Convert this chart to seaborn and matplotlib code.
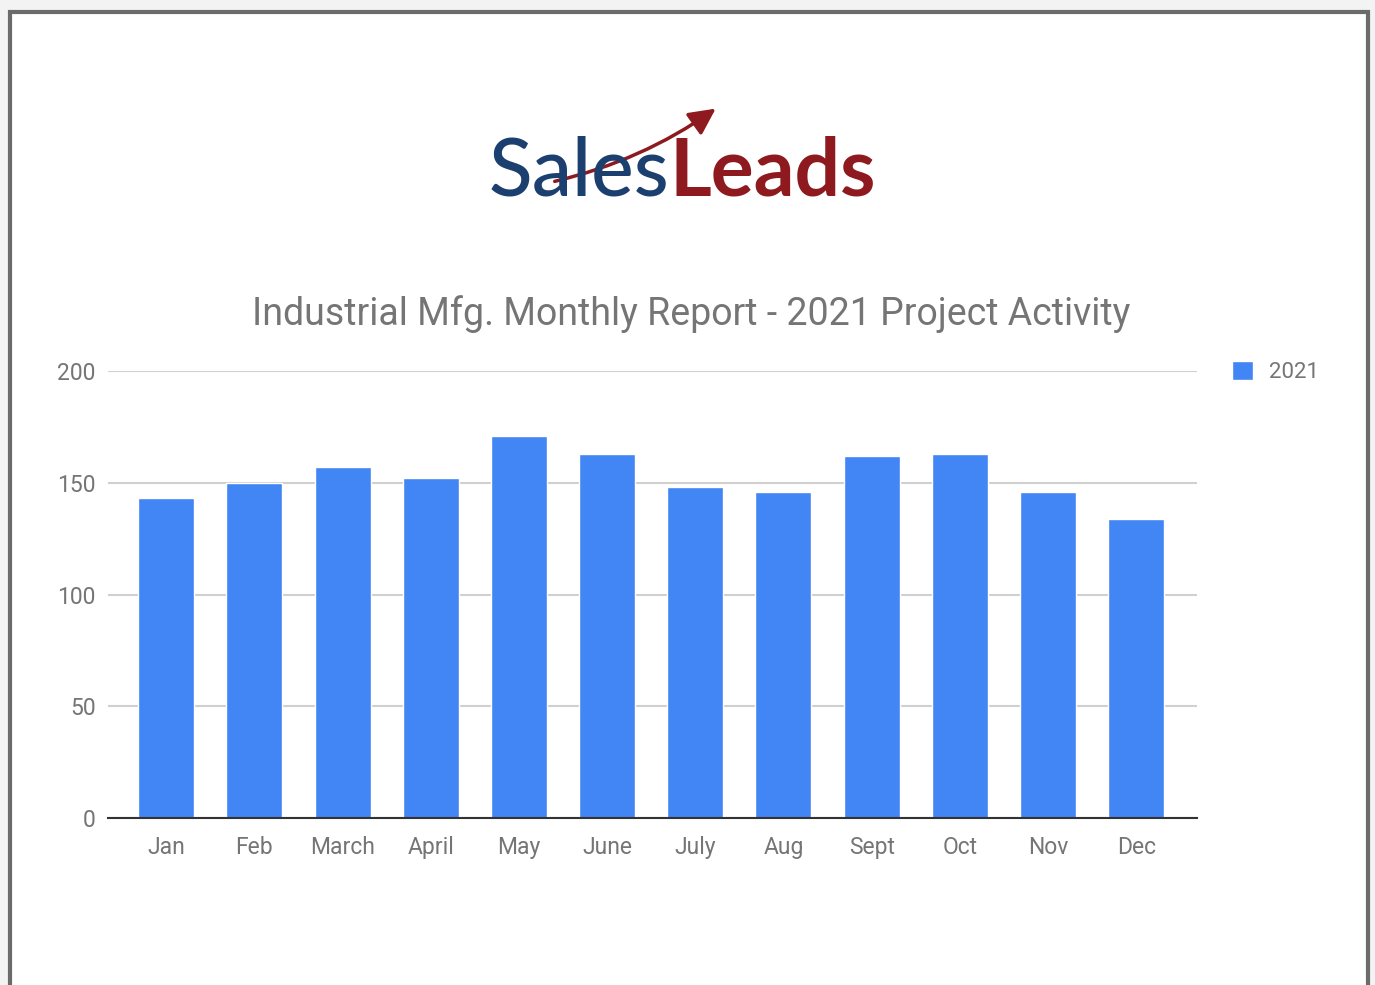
import numpy as np
import pandas as pd
import seaborn as sns
import matplotlib.pyplot as plt
from matplotlib.patches import Rectangle, FancyArrowPatch

months = ['Jan', 'Feb', 'March', 'April', 'May', 'June', 'July', 'Aug', 'Sept', 'Oct', 'Nov', 'Dec']
projects = [143, 150, 157, 152, 171, 163, 148, 146, 162, 163, 146, 134]
year = ['2021'] * len(months)
yticks = [0, 50, 100, 150, 200]

df = pd.DataFrame({'month': months, 'projects': projects, 'year': year})

sns.set_style('white')
plt.rcParams['font.family'] = ['Roboto', 'DejaVu Sans']

W, H = 1375, 985
fig = plt.figure(figsize=(W / 100, H / 100), dpi=100, facecolor='#f3f3f3')

def fx(px):
    return px / W

def fy(py):
    return 1 - py / H

# page frame
fig.patches.append(Rectangle((fx(10), fy(990)), fx(1368) - fx(10), fy(12) - fy(990),
                             transform=fig.transFigure, facecolor='white',
                             edgecolor='#6b6b6b', lw=3, zorder=-10))

ax = fig.add_axes([fx(108), fy(818), fx(1197) - fx(108), fy(371) - fy(818)])
ax.set_facecolor('none')

sns.barplot(data=df, x='month', y='projects', hue='year', palette=['#4285f4'],
            width=0.635, saturation=1, ax=ax, zorder=3)

ax.set_xlim(-0.66, 11.69)
ax.set_ylim(0, 200)
ax.set_yticks(yticks)
ax.set_axisbelow(True)
ax.yaxis.grid(True, color='#d0d0d0', lw=1.5)
ax.xaxis.grid(False)
for s in ['top', 'right', 'left']:
    ax.spines[s].set_visible(False)
ax.spines['bottom'].set_color('#333333')
ax.spines['bottom'].set_linewidth(1.5)
ax.spines['bottom'].set_zorder(5)
ax.tick_params(axis='both', length=0, labelsize=16.5, labelcolor='#757575')
ax.tick_params(axis='y', pad=9)
ax.tick_params(axis='x', pad=13)
ax.set_xlabel('')
ax.set_ylabel('')

handles, labels = ax.get_legend_handles_labels()
ax.legend(handles, labels, loc='center left', bbox_to_anchor=(fx(1221), fy(372)),
          bbox_transform=fig.transFigure, frameon=False, borderpad=0,
          handlelength=0.95, handleheight=0.95, handletextpad=0.7,
          fontsize=16, labelcolor='#757575')

fig.text(fx(691), fy(325), 'Industrial Mfg. Monthly Report - 2021 Project Activity',
         ha='center', va='baseline', fontsize=27, color='#757575')

# logo
fig.text(fx(669), fy(196), 'Sales', ha='right', va='baseline', fontsize=58,
         color='#1b3f6e', family='Lato', fontweight='medium')
fig.text(fx(670), fy(196), 'Leads', ha='left', va='baseline', fontsize=58,
         color='#8e1a1f', family='Lato', fontweight='bold')
arrow = FancyArrowPatch((fx(552), fy(182)), (fx(718), fy(107)),
                        transform=fig.transFigure, connectionstyle='arc3,rad=0.1',
                        arrowstyle='-|>,head_length=16,head_width=8', color='#8e1a1f',
                        lw=2.5, mutation_scale=1)
fig.patches.append(arrow)

fig.savefig('out.png', dpi=100, facecolor=fig.get_facecolor())
